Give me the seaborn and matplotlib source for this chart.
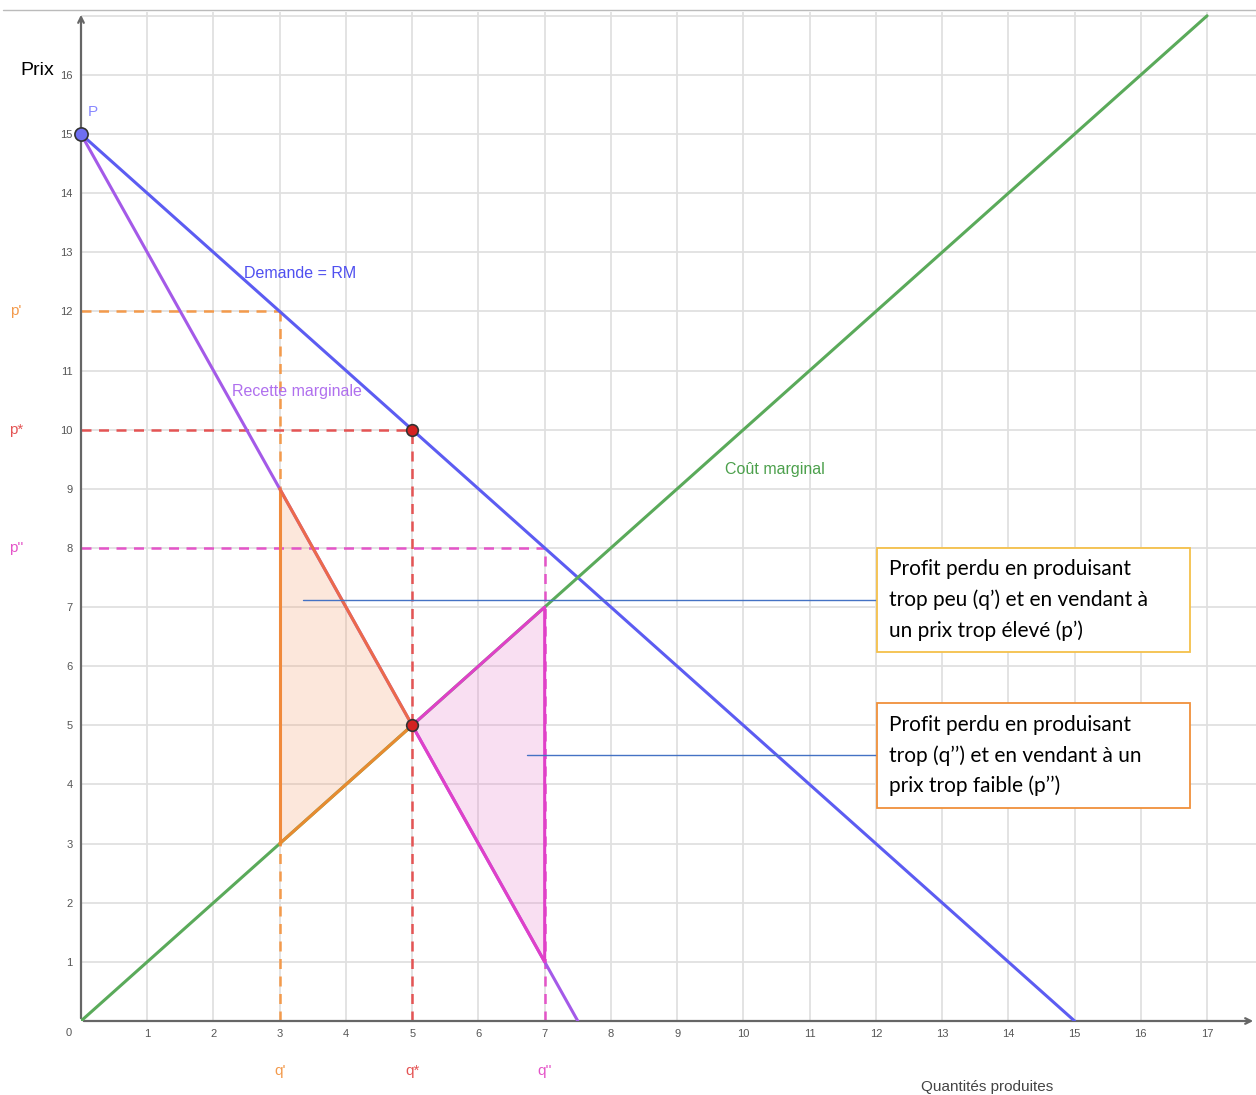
import seaborn as sns
import matplotlib.pyplot as plt
from matplotlib.patches import Rectangle

# curves of the monopoly diagram
demand_q = [0, 15]
demand_p = [15, 0]
mr_q = [0, 7.5]
mr_p = [15, 0]
mc_q = [0, 17]
mc_p = [0, 17]

# reference quantities / prices
q_labels = ["q'", "q*", "q''"]
q_values = [3, 5, 7]
p_values = [12, 10, 8]
guide_colors = ["#f39a4c", "#e45454", "#e454c8"]

# deadweight triangles
tri_low_q = [3, 3, 5]
tri_low_p = [9, 3, 5]
tri_high_q = [5, 7, 7]
tri_high_p = [5, 7, 1]

box_texts = ["Profit perdu en produisant\ntrop peu (q\u2019) et en vendant \u00e0\nun prix trop \u00e9lev\u00e9 (p\u2019)",
             "Profit perdu en produisant\ntrop (q\u2019\u2019) et en vendant \u00e0 un\nprix trop faible (p\u2019\u2019)"]

sns.set_style("white")
plt.rcParams['font.family'] = ['Liberation Sans', 'DejaVu Sans']

W, H = 1256, 1095
fig = plt.figure(figsize=(W / 100, H / 100), dpi=100)
ax = fig.add_axes([81 / W, 74 / H, 1175 / W, 1009 / H])
xmax = 1175 / 66.24
ymax = 1009 / 59.13
ax.set_xlim(0, xmax)
ax.set_ylim(0, ymax)
for s in ax.spines.values():
    s.set_visible(False)

# grid
for i in range(1, 18):
    ax.axvline(i, color="#e0e0e0", lw=1.3, zorder=0)
for j in range(1, 18):
    ax.axhline(j, color="#e0e0e0", lw=1.3, zorder=0)

ax.set_xticks(range(1, 18))
ax.set_yticks(range(1, 17))
ax.tick_params(length=0, labelsize=8, labelcolor="#555555")
ax.tick_params(axis="x", pad=6)
ax.tick_params(axis="y", pad=6)
ax.text(-0.18, -0.2, "0", fontsize=8, color="#555555", ha="center", va="center")

# axes with arrows
ax.annotate("", xy=(xmax, 0), xytext=(0, 0),
            arrowprops=dict(arrowstyle="->", color="#666666", lw=1.6), annotation_clip=False)
ax.annotate("", xy=(0, ymax), xytext=(0, 0),
            arrowprops=dict(arrowstyle="->", color="#666666", lw=1.6), annotation_clip=False)
fig.add_artist(plt.Line2D([3 / W, 1], [1 - 10 / H, 1 - 10 / H], color="#bbbbbb", lw=1))

# triangles
ax.fill(tri_low_q, tri_low_p, color="#f6a070", alpha=0.25, lw=0, zorder=1)
ax.fill(tri_high_q, tri_high_p, color="#e880cc", alpha=0.25, lw=0, zorder=1)

# dashed guides
for q, p, c in zip(q_values, p_values, guide_colors):
    ax.hlines(p, 0, q, colors=c, linestyles=(0, (4, 3)), lw=1.8, zorder=2)
    ax.vlines(q, 0, p, colors=c, linestyles=(0, (4, 3)), lw=1.8, zorder=2)

sns.lineplot(x=demand_q, y=demand_p, ax=ax, color="#5c5cf2", lw=2.2, zorder=3)
sns.lineplot(x=mr_q, y=mr_p, ax=ax, color="#a45ae8", lw=2.2, zorder=3)
sns.lineplot(x=mc_q, y=mc_p, ax=ax, color="#5aaa5a", lw=2.2, zorder=3)

# triangle edges
ax.plot([3, 3], [3, 9], color="#f08a3c", lw=2.2, zorder=4)
ax.plot([3, 5], [9, 5], color="#ec6a4a", lw=2.2, zorder=4)
ax.plot([3, 5], [3, 5], color="#e88a30", lw=2.2, zorder=4)
ax.plot([5, 7, 7, 5], [5, 7, 1, 5], color="#e040c8", lw=2.2, zorder=4)

# points
ax.scatter([0], [15], s=90, color="#6f6ff2", edgecolor="#333333", lw=1.2, zorder=6, clip_on=False)
ax.scatter([5, 5], [10, 5], s=70, color="#d42222", edgecolor="#333333", lw=1.2, zorder=6)
ax.text(0.1, 15.3, "P", color="#8888ff", fontsize=11)

# curve labels
ax.text(2.46, 12.65, "Demande = RM", color="#5050f0", fontsize=11.5, va="center")
ax.text(2.28, 10.64, "Recette marginale", color="#b070ee", fontsize=11.5, va="center")
ax.text(9.72, 9.32, "Co\u00fbt marginal", color="#4ca04c", fontsize=11.5, va="center")

# axis side labels
for q, p, c, lab in zip(q_values, p_values, guide_colors, q_labels):
    plab = lab.replace("q", "p")
    ax.text(-0.98, p, plab, color=c, fontsize=11, ha="center", va="center")
    ax.text(q, -0.85, lab, color=c, fontsize=11, ha="center", va="center")

ax.text(-0.66, 16.08, "Prix", fontsize=14, color="black", ha="center", va="center")
ax.text(13.68, -1.12, "Quantit\u00e9s produites", fontsize=11, color="#444444", ha="center", va="center")

# annotation boxes
boxes = [(8.0, 6.24, "#f5c04a", 7.12, 3.35), (5.38, 3.60, "#f0903a", 4.50, 6.73)]
for (top, bottom, ec, ly, lx), txt in zip(boxes, box_texts):
    ax.plot([lx, 12.02], [ly, ly], color="#4472c4", lw=1, zorder=7)
    ax.add_patch(Rectangle((12.02, bottom), 16.74 - 12.02, top - bottom,
                           facecolor="white", edgecolor=ec, lw=1.3, zorder=8))
    ax.text(12.2, (top + bottom) / 2, txt, fontsize=15, family="Lato", color="black",
            va="center", ha="left", linespacing=1.6, zorder=9)

fig.savefig("out.png", dpi=100)
